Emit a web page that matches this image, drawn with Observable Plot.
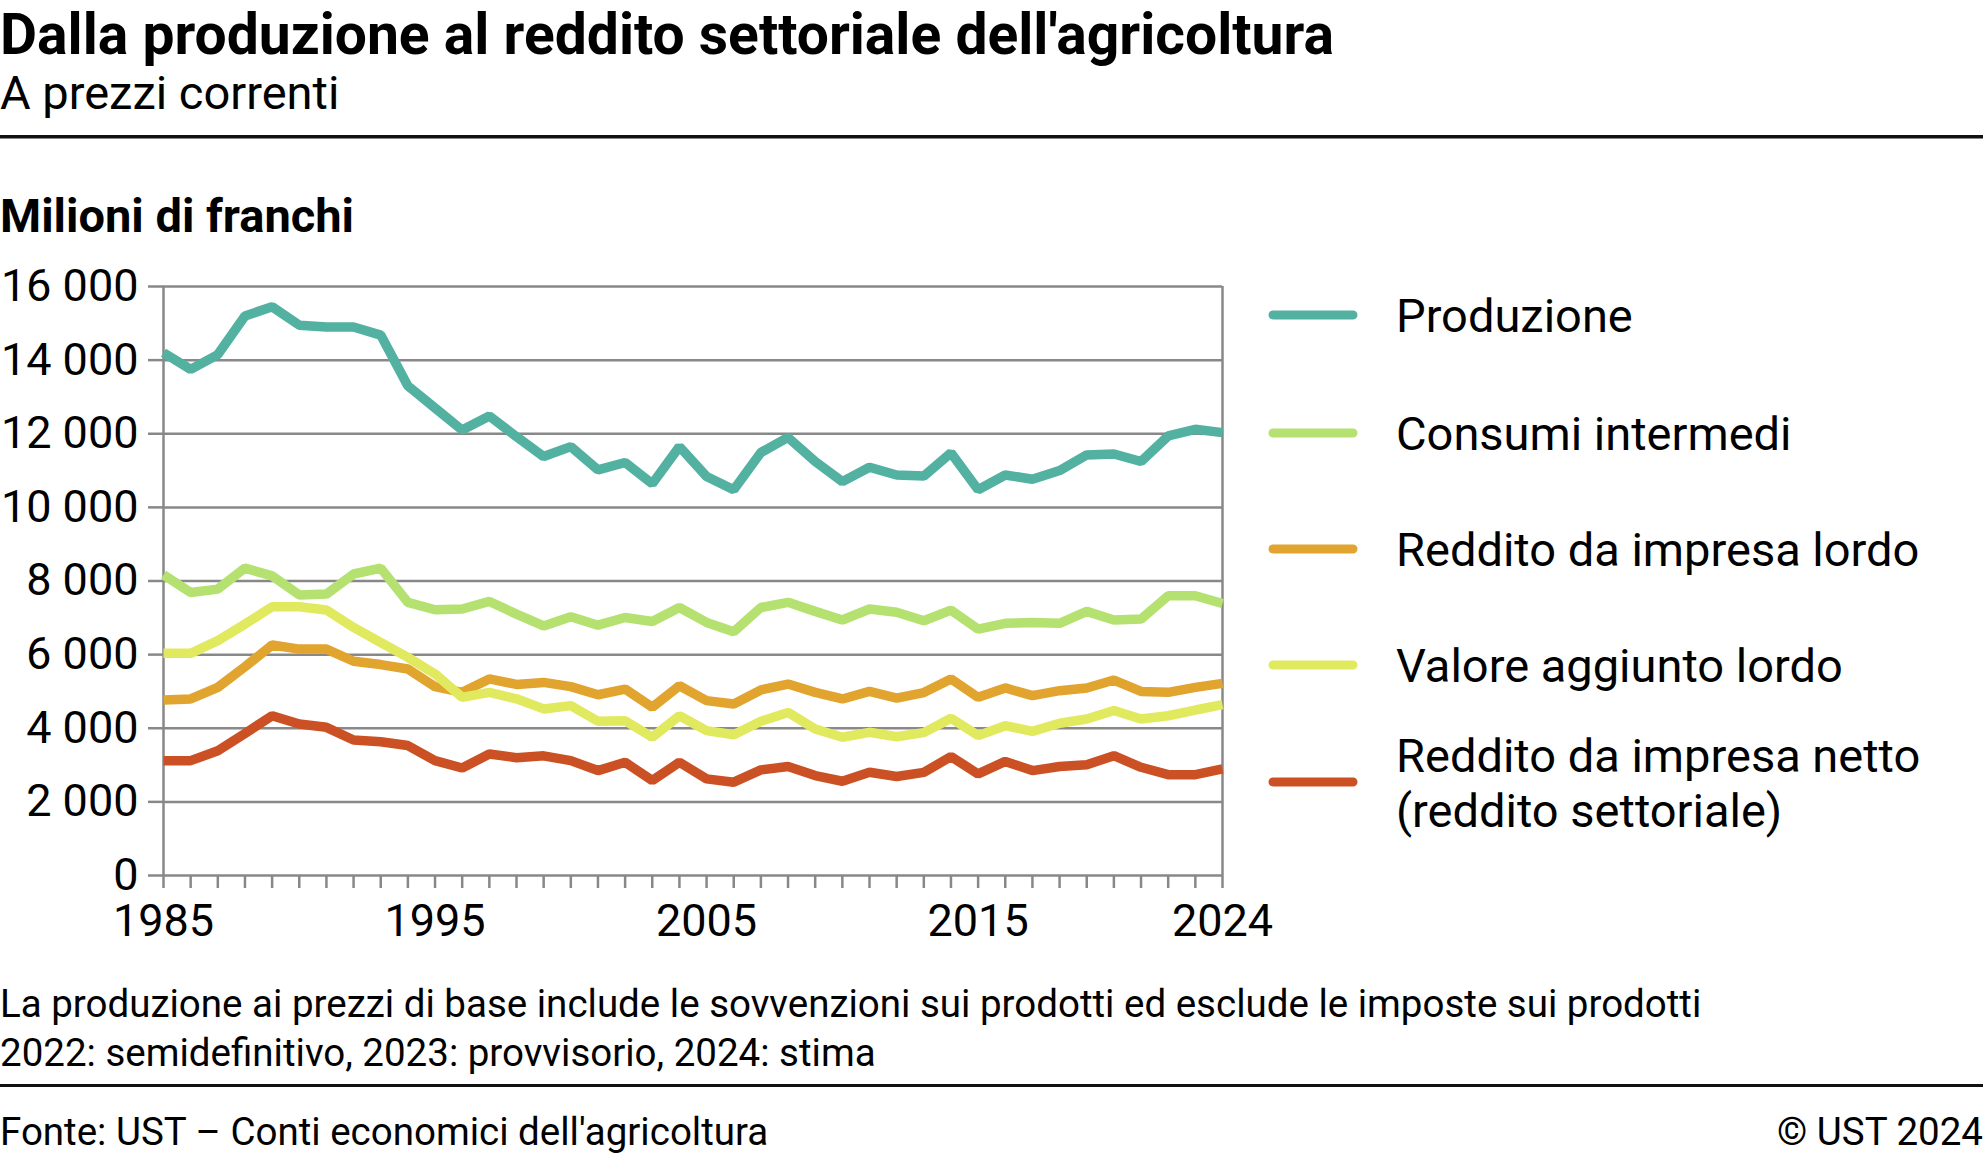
<!DOCTYPE html>
<html><head><meta charset="utf-8">
<script src="https://cdn.jsdelivr.net/npm/d3@7"></script>
<script src="https://cdn.jsdelivr.net/npm/@observablehq/plot@0.6"></script>
<style>
html,body{margin:0;padding:0;background:#fff;}
#wrap{position:relative;width:1983px;height:1161px;overflow:hidden;font-family:Roboto,sans-serif;background:#fff;}
#plot{position:absolute;left:0;top:250px;}
#overlay{position:absolute;left:0;top:0;}
</style></head><body>
<div id="wrap"><div id="plot"></div><svg id="overlay" width="1983" height="1161"></svg></div>
<script>
const years = [1985,1986,1987,1988,1989,1990,1991,1992,1993,1994,1995,1996,1997,1998,1999,2000,2001,2002,2003,2004,2005,2006,2007,2008,2009,2010,2011,2012,2013,2014,2015,2016,2017,2018,2019,2020,2021,2022,2023,2024];
const labeledYears = [1985, 1995, 2005, 2015, 2024];
const yTicks = [0, 2000, 4000, 6000, 8000, 10000, 12000, 14000, 16000];

const seriesNames = ["Produzione", "Consumi intermedi", "Reddito da impresa lordo", "Valore aggiunto lordo", "Reddito da impresa netto (reddito settoriale)"];
const seriesColors = ["#52b1a0", "#b4e170", "#e1a42f", "#e1ea5e", "#cb5024"];

const produzione = [14200,13750,14150,15200,15450,14950,14900,14900,14680,13300,12700,12100,12480,11920,11380,11650,11020,11220,10640,11650,10840,10480,11490,11900,11245,10700,11090,10880,10850,11480,10480,10880,10765,11000,11425,11450,11245,11940,12120,12030];
const consumi = [8170,7690,7780,8350,8140,7620,7645,8190,8350,7420,7220,7240,7445,7100,6780,7030,6800,7010,6900,7280,6875,6620,7280,7420,7175,6940,7240,7150,6920,7210,6695,6850,6875,6850,7175,6940,6965,7600,7600,7390];
const redditoLordo = [4770,4795,5110,5670,6260,6150,6150,5820,5730,5610,5130,4975,5340,5190,5245,5130,4910,5065,4570,5155,4750,4660,5040,5200,4975,4795,5000,4820,4970,5340,4840,5095,4885,5020,5095,5310,5000,4975,5110,5220];
const valoreAggiunto = [6035,6035,6380,6830,7300,7300,7210,6740,6330,5925,5475,4840,4975,4800,4525,4615,4190,4205,3755,4340,3935,3825,4190,4430,3980,3755,3890,3770,3880,4270,3800,4070,3915,4135,4250,4480,4250,4340,4495,4640];
const redditoNetto = [3120,3120,3390,3860,4340,4115,4025,3680,3635,3530,3120,2920,3300,3200,3250,3120,2850,3075,2580,3075,2625,2535,2870,2960,2715,2560,2805,2690,2800,3230,2760,3100,2850,2960,3010,3255,2940,2740,2740,2895];

const seriesValues = [produzione, consumi, redditoLordo, valoreAggiunto, redditoNetto];
const rows = [];
seriesNames.forEach((s, i) => years.forEach((yr, j) => rows.push({series: s, year: yr, value: seriesValues[i][j]})));

const fmt = d => d3.format(",")(d).replace(/,/g, " ");
const W = 1300;
const chart = Plot.plot({
  width: W, height: 695,
  marginLeft: 163, marginRight: W - 1222, marginTop: 36, marginBottom: 70,
  style: {fontFamily: "Roboto, sans-serif", fontSize: "45px", background: "transparent", overflow: "visible", color: "#000"},
  x: {domain: [1985, 2024], label: null},
  y: {domain: [0, 16000], label: null},
  color: {domain: seriesNames, range: seriesColors},
  marks: [
    Plot.gridY(yTicks, {stroke: "#888", strokeOpacity: 1, strokeWidth: 2.5}),
    Plot.ruleX([1985, 2024], {stroke: "#888", strokeWidth: 2.5}),
    Plot.axisY(yTicks, {tickSize: 15, tickPadding: 10, stroke: "#888", strokeWidth: 2.5, tickFormat: fmt, fill: "#000", label: null, fontSize: 45}),
    Plot.axisX(years, {tickSize: 13, stroke: "#888", strokeWidth: 2.5, tickFormat: () => "", label: null}),
    Plot.axisX(labeledYears, {tickSize: 0, tickPadding: 29, tickFormat: d => String(d), label: null, fontSize: 45, fill: "#000"}),
    Plot.line(rows, {x: "year", y: "value", z: "series", stroke: "series", strokeWidth: 9.5, strokeLinejoin: "miter", strokeLinecap: "butt"})
  ]
});
document.getElementById("plot").appendChild(chart);

// overlay texts
const ov = d3.select("#overlay");
function txt(x, y, s, size, weight, anchor) {
  ov.append("text").attr("x", x).attr("y", y).attr("font-family", "Roboto, sans-serif")
    .attr("font-size", size).attr("font-weight", weight || 400).attr("fill", "#000")
    .attr("text-anchor", anchor || "start").text(s);
}
txt(0, 54, "Dalla produzione al reddito settoriale dell'agricoltura", 57, 700);
txt(0, 109, "A prezzi correnti", 47, 400);
ov.append("rect").attr("x", 0).attr("y", 135).attr("width", 1983).attr("height", 3.5).attr("fill", "#111");
txt(0, 232, "Milioni di franchi", 47, 700);

const legendY = [315, 433, 549, 665, 782];
const legendLines = [["Produzione"], ["Consumi intermedi"], ["Reddito da impresa lordo"], ["Valore aggiunto lordo"], ["Reddito da impresa netto", "(reddito settoriale)"]];
seriesNames.forEach((s, i) => {
  ov.append("line").attr("x1", 1273).attr("x2", 1353).attr("y1", legendY[i]).attr("y2", legendY[i])
    .attr("stroke", seriesColors[i]).attr("stroke-width", 9).attr("stroke-linecap", "round");
  const lines = legendLines[i];
  if (lines.length === 1) txt(1396, legendY[i] + 17, lines[0], 47, 400);
  else { txt(1396, legendY[i] - 10, lines[0], 47, 400); txt(1396, legendY[i] + 45, lines[1], 47, 400); }
});

txt(0, 1017, "La produzione ai prezzi di base include le sovvenzioni sui prodotti ed esclude le imposte sui prodotti", 38.5, 400);
txt(0, 1066, "2022: semidefinitivo, 2023: provvisorio, 2024: stima", 38.5, 400);
ov.append("rect").attr("x", 0).attr("y", 1084).attr("width", 1983).attr("height", 3).attr("fill", "#111");
txt(0, 1145, "Fonte: UST – Conti economici dell'agricoltura", 38.5, 400);
txt(1983, 1145, "© UST 2024", 38.5, 400, "end");
</script>
</body></html>
